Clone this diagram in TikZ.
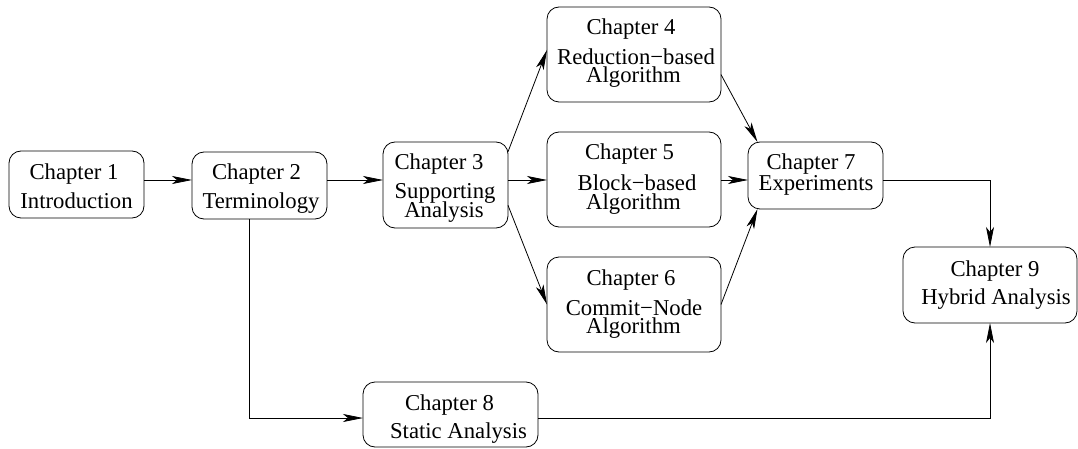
\documentclass[tikz,border=0pt]{standalone}
\usepackage{fontspec}
\setmainfont{Liberation Serif}
\newfontfamily\chfont{Liberation Serif}
\usetikzlibrary{arrows.meta}
\begin{document}
\begin{tikzpicture}[x=1pt,y=-1pt,
  chbox/.style={draw, line width=0.8pt, rounded corners=12pt, inner sep=0pt, outer sep=0pt},
  txt/.style={anchor=base, inner sep=0pt, font=\chfont\fontsize{22.7}{27}\selectfont},
  arr/.style={draw, line width=0.8pt, -{Stealth[length=20pt,width=8pt,inset=5pt]}},
  ln/.style={draw, line width=0.8pt}]
\useasboundingbox (0,0) rectangle (1078,449);
% boxes
\node[chbox, minimum width=135pt, minimum height=67pt] (c1) at (76.5,184.5) {};
\node[chbox, minimum width=135pt, minimum height=67pt] (c2) at (259.5,185.5) {};
\node[chbox, minimum width=125pt, minimum height=86pt] (c3) at (445.5,185) {};
\node[chbox, minimum width=174pt, minimum height=95pt] (c4) at (634,54.5) {};
\node[chbox, minimum width=174pt, minimum height=95pt] (c5) at (634,179.5) {};
\node[chbox, minimum width=174pt, minimum height=95pt] (c6) at (634,304.5) {};
\node[chbox, minimum width=135pt, minimum height=67pt] (c7) at (815.5,175.5) {};
\node[chbox, minimum width=175pt, minimum height=65pt] (c8) at (450.5,414.5) {};
\node[chbox, minimum width=174pt, minimum height=76pt] (c9) at (990,285) {};
% texts
\node[txt] (t1a) at (74,180) {Chapter 1};
\node[txt] (t1b) at (76.5,208) {Introduction};
\node[txt] (t2a) at (256.5,179) {Chapter 2};
\node[txt] (t2b) at (261,208) {Terminology};
\node[txt] (t3a) at (439,170) {Chapter 3};
\node[txt] (t3b) at (445,198) {Supporting};
\node[txt] (t3c) at (444,217) {Analysis};
\node[txt] (t4a) at (631,35) {Chapter 4};
\node[txt] (t4b) at (636,65) {Reduction−based};
\node[txt] (t4c) at (633.5,83) {Algorithm};
\node[txt] (t5a) at (629.5,160) {Chapter 5};
\node[txt] (t5b) at (637,190) {Block−based};
\node[txt] (t5c) at (633.5,209) {Algorithm};
\node[txt] (t6a) at (631,285) {Chapter 6};
\node[txt] (t6b) at (634,315) {Commit−Node};
\node[txt] (t6c) at (633.5,333) {Algorithm};
\node[txt] (t7a) at (811,170) {Chapter 7};
\node[txt] (t7b) at (816,190) {Experiments};
\node[txt] (t8a) at (449.5,410) {Chapter 8};
\node[txt] (t8b) at (458.5,438) {Static Analysis};
\node[txt] (t9a) at (995,276) {Chapter 9};
\node[txt] (t9b) at (996,304) {Hybrid Analysis};
% helper coordinates
\coordinate (row) at (0,180);
\coordinate (low) at (0,418);
\coordinate (drop) at (249,0);
% connectors
\draw[arr] (c1.east |- row) -- (c2.west |- row);
\draw[arr] (c2.east |- row) -- (c3.west |- row);
\draw[arr] (c3.east |- row) -- (c5.west |- row);
\draw[arr] (c5.east |- row) -- (c7.west |- row);
\draw[arr] (c3.28) -- (c4.177);
\draw[arr] (c3.-18) -- (c6.west);
\draw[arr] (c4.-13) -- (c7.150);
\draw[arr] (c6.east) -- (c7.210);
\draw[arr] (c7.east |- row) -| (c9.north);
\draw[arr] (c2.south -| drop) |- (c8.west |- low);
\draw[arr] (c8.east |- low) -| (c9.south);
\end{tikzpicture}
\end{document}
